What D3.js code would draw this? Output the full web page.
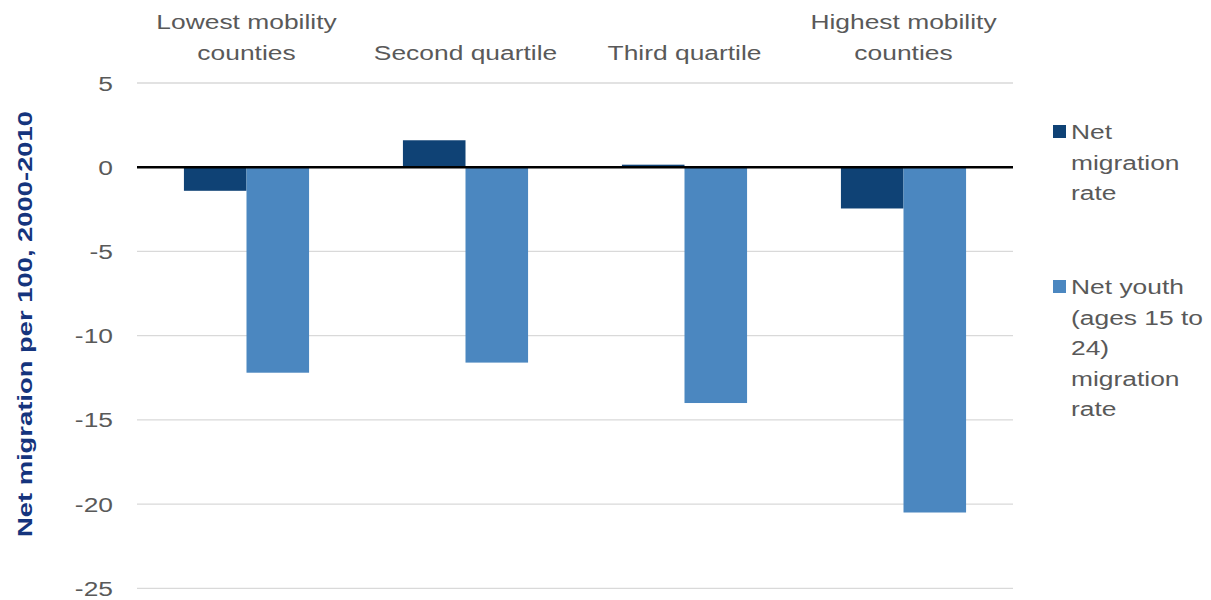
<!DOCTYPE html>
<html>
<head>
<meta charset="utf-8">
<script src="https://cdn.jsdelivr.net/npm/d3@7"></script>
<style>
  html, body { margin: 0; padding: 0; background: #ffffff; }
  svg { display: block; }
  text { font-family: "Liberation Sans", Arial, sans-serif; }
</style>
</head>
<body>
<svg id="chart" width="1211" height="600"></svg>
<script>
// Quartile groups of counties by mobility
const categories = ["Lowest mobility counties", "Second quartile", "Third quartile", "Highest mobility counties"];
const categoryLines = [["Lowest mobility", "counties"], ["Second quartile"], ["Third quartile"], ["Highest mobility", "counties"]];

// Net migration per 100 residents, 2000-2010
const seriesNames = ["Net migration rate", "Net youth (ages 15 to 24) migration rate"];
const netMigration = [-1.4, 1.6, 0.15, -2.45];
const netYouthMigration = [-12.2, -11.6, -14.0, -20.5];

const legendLines = [["Net", "migration", "rate"], ["Net youth", "(ages 15 to", "24)", "migration", "rate"]];
const yTicks = [5, 0, -5, -10, -15, -20, -25];
const yTitle = "Net migration per 100, 2000-2010";

const colors = ["#0f4275", "#4b87c0"];
const textGray = "#595959";
const stretch = 1.32;   // horizontal stretch applied to all text

const svg = d3.select("#chart");
const plot = { left: 137, right: 1013, top: 83, bottom: 588.3 };

const y = d3.scaleLinear().domain([-25, 5]).range([plot.bottom, plot.top]);
const x0 = d3.scaleBand().domain(categories).range([plot.left, plot.right]).paddingInner(0).paddingOuter(0);
const x1 = d3.scaleBand().domain(seriesNames).range([0, x0.bandwidth()]).paddingInner(0).paddingOuter(0.75);

// Horizontal gridlines
svg.append("g").selectAll("line").data(yTicks.filter(d => d !== 0)).join("line")
  .attr("x1", plot.left).attr("x2", plot.right)
  .attr("y1", d => y(d)).attr("y2", d => y(d))
  .attr("stroke", "#d9d9d9").attr("stroke-width", 1.3);

// Y tick labels
svg.append("g").selectAll("g").data(yTicks).join("g")
  .attr("transform", d => `translate(113,${y(d) + 7.5}) scale(${stretch},1)`)
  .append("text")
  .attr("text-anchor", "end")
  .attr("font-size", 20)
  .attr("fill", textGray)
  .text(d => String(d));

// Bars
const rows = categories.map((c, i) => ({ cat: c, values: [netMigration[i], netYouthMigration[i]] }));
const groups = svg.append("g").selectAll("g").data(rows).join("g")
  .attr("transform", d => `translate(${x0(d.cat)},0)`);
groups.selectAll("rect")
  .data(d => d.values.map((v, j) => ({ key: seriesNames[j], v, j })))
  .join("rect")
  .attr("x", d => x1(d.key))
  .attr("width", x1.bandwidth())
  .attr("y", d => y(Math.max(0, d.v)))
  .attr("height", d => Math.abs(y(d.v) - y(0)))
  .attr("fill", d => colors[d.j]);

// Zero line
svg.append("line")
  .attr("x1", plot.left).attr("x2", plot.right)
  .attr("y1", y(0)).attr("y2", y(0))
  .attr("stroke", "#000000").attr("stroke-width", 2.5);

// Category labels along the top
const catG = svg.append("g").selectAll("g").data(categories).join("g");
catG.each(function (c, i) {
  const lines = categoryLines[i];
  const cx = x0(c) + x0.bandwidth() / 2;
  d3.select(this).selectAll("g").data(lines).join("g")
    .attr("transform", (l, k) => `translate(${cx},${60 - (lines.length - 1 - k) * 31}) scale(${stretch},1)`)
    .append("text")
    .attr("text-anchor", "middle")
    .attr("font-size", 20)
    .attr("fill", textGray)
    .text(l => l);
});

// Y axis title
svg.append("g")
  .attr("transform", `translate(32,324) rotate(-90) scale(1.37,1)`)
  .append("text")
  .attr("text-anchor", "middle")
  .attr("font-size", 20)
  .attr("font-weight", "bold")
  .attr("fill", "#15347d")
  .text(yTitle);

// Legend
const legendTops = [139, 294];
const legend = svg.append("g").selectAll("g").data(seriesNames).join("g");
legend.each(function (s, i) {
  const g = d3.select(this);
  g.append("rect")
    .attr("x", 1053).attr("y", legendTops[i] - 14)
    .attr("width", 13).attr("height", 13)
    .attr("fill", colors[i]);
  g.selectAll("g").data(legendLines[i]).join("g")
    .attr("transform", (l, k) => `translate(1071,${legendTops[i] + k * 30.5}) scale(${stretch},1)`)
    .append("text")
    .attr("font-size", 20)
    .attr("fill", textGray)
    .text(l => l);
});
</script>
</body>
</html>
